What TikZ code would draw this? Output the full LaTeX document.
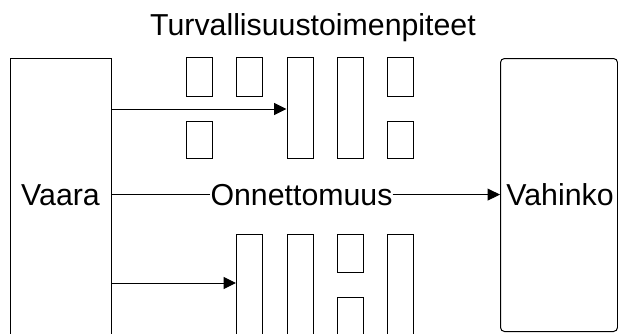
\documentclass[tikz,border=0pt]{standalone}
\usepackage{fontspec}
\setmainfont{Liberation Sans}
\usetikzlibrary{arrows.meta}
\begin{document}
\begin{tikzpicture}[x=1pt,y=-1pt,
  box/.style={draw, line width=1pt, inner sep=0pt, anchor=north west, minimum width=26pt},
  lbl/.style={inner sep=0pt, anchor=base, font=\fontsize{30.3}{36}\selectfont},
  conn/.style={line width=1pt},
  arr/.style={conn, -{Triangle[length=12.5pt,width=12pt]}}]
\useasboundingbox (0,0) rectangle (618,333);
\clip (0,0) rectangle (618,333);

% hazard and damage blocks
\node[box, minimum width=101pt, minimum height=290pt] (vaara) at (10,58) {};
\node[box, rounded corners=4pt, minimum width=117pt, minimum height=273pt] (vahinko) at (500,58) {};

% safety barriers, upper row
\node[box, minimum height=39pt]  (t1) at (186,57) {};
\node[box, minimum height=39pt]  (t2) at (236,57) {};
\node[box, minimum height=101pt] (t3) at (286.5,57) {};
\node[box, minimum height=37pt]  (t4) at (186,121) {};
\node[box, minimum height=101pt] (t5) at (337,57) {};
\node[box, minimum height=39pt]  (t6) at (387,57) {};
\node[box, minimum height=37pt]  (t7) at (387,121) {};

% safety barriers, lower row
\node[box, minimum height=120pt] (b1) at (236,234) {};
\node[box, minimum height=120pt] (b2) at (286.5,234) {};
\node[box, minimum height=38pt]  (b3) at (337,234) {};
\node[box, minimum height=60pt]  (b4) at (337,297) {};
\node[box, minimum height=120pt] (b5) at (387,234) {};

% labels
\node[lbl] (title) at (313,35) {Turvallisuustoimenpiteet};
\node[lbl] (vaaraT) at (60.5,205) {Vaara};
\node[lbl] (vahinkoT) at (560,205) {Vahinko};
\node[lbl] (onn) at (301.5,205) {Onnettomuus};

% connectors
\path (vaara.east |- 0,109) coordinate (s1);
\path (vaara.east |- 0,283) coordinate (s2);
\draw[arr] (s1) -- (s1 -| t3.west);
\draw[arr] (s2) -- (s2 -| b1.west);
\draw[conn] (vaara.east |- onn.west) -- (onn.west);
\draw[arr] (onn.east) -- (onn.east -| vahinko.west);
\end{tikzpicture}
\end{document}
